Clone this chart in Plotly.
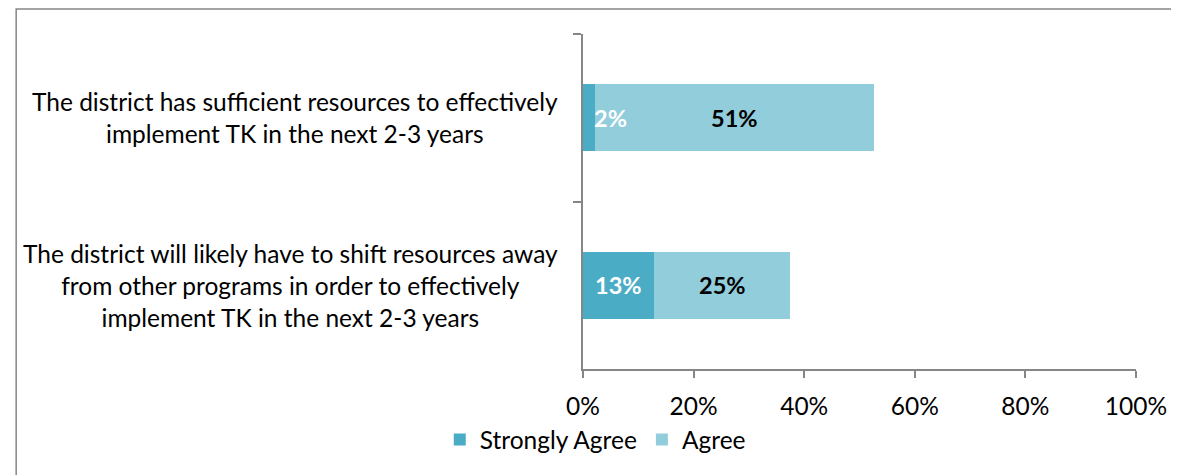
import plotly.graph_objects as go

categories = [
    "The district has sufficient resources to effectively<br>implement TK in the next 2-3 years",
    "The district will likely have to shift resources away<br>from other programs in order to effectively<br>implement TK in the next 2-3 years",
]
cat_ids = ["c1", "c2"]
strongly_agree = [2.1, 12.9]
agree = [50.6, 24.6]
x_ticks = [0, 20, 40, 60, 80, 100]
x_tick_labels = ["0%", "20%", "40%", "60%", "80%", "100%"]

FONT = "Lato, 'Open Sans', sans-serif"
FS = 24.5
C_SA = "#4BACC6"
C_A = "#92CDDC"
AX = "#868686"

fig = go.Figure()
fig.add_trace(go.Bar(y=cat_ids, x=strongly_agree, name="Strongly Agree", orientation="h",
                     marker=dict(color=C_SA, line=dict(width=0))))
fig.add_trace(go.Bar(y=cat_ids, x=agree, name="Agree", orientation="h",
                     marker=dict(color=C_A, line=dict(width=0))))

annotations = []
for cid, sa, a in zip(cat_ids, strongly_agree, agree):
    if sa < 5:
        annotations.append(dict(x=sa, y=cid, xref="x", yref="y", text=f"<b>{sa:.0f}%</b>",
                                showarrow=False, xanchor="left", xshift=-3,
                                font=dict(family=FONT, size=FS - 1, color="white")))
    else:
        annotations.append(dict(x=sa / 2, y=cid, xref="x", yref="y", text=f"<b>{sa:.0f}%</b>",
                                showarrow=False, font=dict(family=FONT, size=FS - 1, color="white")))
    annotations.append(dict(x=sa + a / 2, y=cid, xref="x", yref="y", text=f"<b>{a:.0f}%</b>",
                            showarrow=False, font=dict(family=FONT, size=FS - 1, color="black")))
for cid, label in zip(cat_ids, categories):
    annotations.append(dict(x=-0.041, y=cid, xref="paper", yref="y", text=label,
                            showarrow=False, xanchor="right", align="center",
                            font=dict(family=FONT, size=FS, color="black")))

fig.update_layout(
    width=1171, height=467,
    margin=dict(l=575, r=36, t=26, b=106),
    paper_bgcolor="white", plot_bgcolor="white",
    barmode="stack", bargap=0.6,
    font=dict(family=FONT, size=FS, color="black"),
    showlegend=True,
    legend=dict(orientation="h", x=-0.259, xanchor="left", y=-0.211, yanchor="middle",
                font=dict(family=FONT, size=FS, color="black"), traceorder="normal",
                itemwidth=30, bgcolor="rgba(0,0,0,0)"),
    annotations=annotations,
    shapes=[dict(type="rect", xref="paper", yref="paper", x0=-1.025, x1=1.2,
                 y0=-0.5, y1=1.0746, line=dict(color=AX, width=1.5))],
)
fig.update_xaxes(range=[0, 100], tickvals=x_ticks, ticktext=x_tick_labels,
                 showgrid=False, zeroline=False, showline=True, linecolor=AX, linewidth=1.5,
                 ticks="outside", ticklen=7, tickcolor=AX, tickwidth=1.5, ticklabelstandoff=8,
                 tickfont=dict(family=FONT, size=FS, color="black"))
fig.update_yaxes(categoryorder="array", categoryarray=cat_ids, autorange="reversed",
                 showticklabels=False, showgrid=False, zeroline=False,
                 showline=True, linecolor=AX, linewidth=1.5,
                 ticks="outside", tickson="boundaries", ticklen=8, tickcolor=AX, tickwidth=1.5)

fig.write_html("out.html")
